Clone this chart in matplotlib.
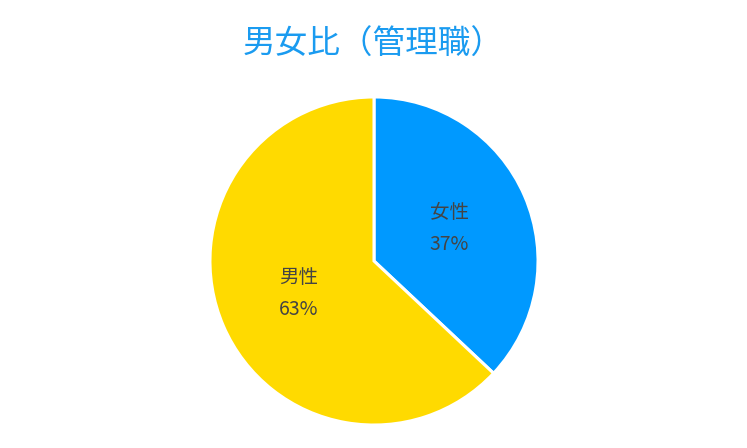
import matplotlib.pyplot as plt

plt.rcParams['font.family'] = ['Noto Sans CJK JP', 'DejaVu Sans']

labels = ['女性', '男性']
shares = [37, 63]
colors = ['#0099FF', '#FFDA00']

fig = plt.figure(figsize=(7.47, 4.48), dpi=100)
# pie centre near (374, 261) px, radius ~164 px
r_px = 166
cx, cy = 374, 448 - 261
ax = fig.add_axes([(cx - r_px) / 747, (cy - r_px) / 448, 2 * r_px / 747, 2 * r_px / 448])


def fmt(pct):
    idx = min(range(len(shares)), key=lambda i: abs(shares[i] - pct))
    return f'{labels[idx]}\n{pct:.0f}%'


wedges, texts = ax.pie(shares, colors=colors, startangle=90, counterclock=False,
                       radius=1.0, wedgeprops=dict(edgecolor='white', linewidth=2.2),
                       labels=[fmt(s) for s in shares], labeldistance=0.5,
                       textprops=dict(color='#444444', fontsize=14, ha='center',
                                      va='center', linespacing=1.7))
ax.set_xlim(-1.012, 1.012)
ax.set_ylim(-1.012, 1.012)
ax.set_aspect('equal')
ax.axis('off')

fig.text(0.5, 1 - 45 / 448, '男女比（管理職）', ha='center', va='center',
         fontsize=23.5, color='#1A9BF0')

fig.savefig('out.png', dpi=100)
